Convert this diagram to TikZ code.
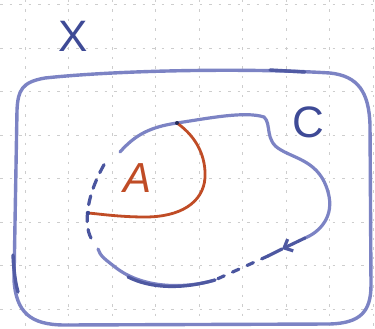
\documentclass[tikz,border=0pt]{standalone}
\usepackage{fontspec}
\setmainfont{Liberation Sans}
\usetikzlibrary{arrows.meta}
\definecolor{penblue}{RGB}{124,131,196}
\definecolor{inkblue}{RGB}{62,74,150}
\definecolor{penred}{RGB}{192,76,38}
\definecolor{gridgray}{RGB}{205,205,205}
\tikzset{
  gridline/.style={gridgray, line width=0.8pt, dash pattern=on 2.5pt off 7pt},
  outline/.style={penblue, line width=3.4pt, line cap=round, line join=round},
  curveC/.style={penblue, line width=3.2pt, line cap=round},
  dashC/.style={inkblue!80!penblue, line width=3.2pt, line cap=round, dash pattern=on 7pt off 9pt},
  redline/.style={penred, line width=2.8pt, line cap=round},
  label/.style={inner sep=0pt, font=\fontsize{44}{44}\selectfont}
}
\begin{document}
\begin{tikzpicture}[x=1pt, y=-1pt]
\useasboundingbox (0,0) rectangle (375,329);
\fill[white] (0,0) rectangle (375,329);
% graph paper grid
\foreach \gx in {25,68.5,112,155.5,199,242.5,286,329.5,373}
  \draw[gridline] (\gx,0) -- (\gx,329);
\foreach \gy in {4.5,48,91.5,135,178.5,222,265.5,309}
  \draw[gridline] (0,\gy) -- (375,\gy);
% outer space X
\draw[outline] (17,110) .. controls (18,90) and (22,82) .. (45,78)
  .. controls (120,70) and (250,68) .. (330,73)
  .. controls (358,76) and (369,92) .. (370,125)
  -- (371,285) .. controls (371,312) and (360,323) .. (330,324)
  -- (65,325) .. controls (30,325) and (16,312) .. (14,280)
  -- cycle;
% dark pen overlays on the outline
\draw[inkblue!70!penblue, line width=3.4pt, line cap=round] (270,70) -- (305,72);
\draw[inkblue!70!penblue, line width=3.4pt, line cap=round] (13,255) .. controls (14,275) and (16,285) .. (18,292);
\node[label, inkblue] (X) at (73,36) {X};
% curve C
\coordinate (c0) at (120,152);
\coordinate (cj) at (177,123);
\coordinate (c1) at (264,117);
\coordinate (ca) at (282,249);
\coordinate (c2) at (268,256);
\coordinate (c3) at (215,280);
\coordinate (c4) at (98,249);
\coordinate (c5) at (91,238);
\coordinate (c6) at (108,158);
\coordinate (cr) at (88,213);
\draw[curveC] (c0) .. controls (135,135) and (150,127) .. (cj)
  .. controls (210,118) and (245,111) .. (c1)
  .. controls (272,124) and (264,141) .. (281,150)
  .. controls (296,159) and (320,162) .. (328,192)
  .. controls (335,216) and (320,232) .. (305,238);
\draw[curveC, inkblue!75!penblue, -{Straight Barb[length=7pt,width=13pt]}] (305,238) -- (ca);
\draw[curveC, inkblue!75!penblue] (ca) -- (c2);
\draw[dashC] (c2) -- (c3);
\draw[curveC] (c3) .. controls (180,290) and (140,287) .. (115,267)
  .. controls (106,260) and (100,256) .. (c4);
\draw[curveC, inkblue!75!penblue] (c3) .. controls (180,290) and (150,288) .. (128,277);
\draw[dashC, dash pattern=on 9pt off 8pt] (c5) .. controls (84,225) and (85,195) .. (c6);
\node[label, inkblue] (C) at (308,122) {C};
% subset A
\draw[redline] (cj) .. controls (198,138) and (206,158) .. (205,178)
  .. controls (203,203) and (180,217) .. (145,217)
  .. controls (120,217) and (100,214) .. (cr);
\fill[inkblue!60!black] (cj) circle (2pt);
\fill[inkblue] (cr) circle (2.2pt);
\node[label, penred, font=\fontsize{42}{42}\selectfont\itshape] (A) at (138,178) {A};
\end{tikzpicture}
\end{document}
